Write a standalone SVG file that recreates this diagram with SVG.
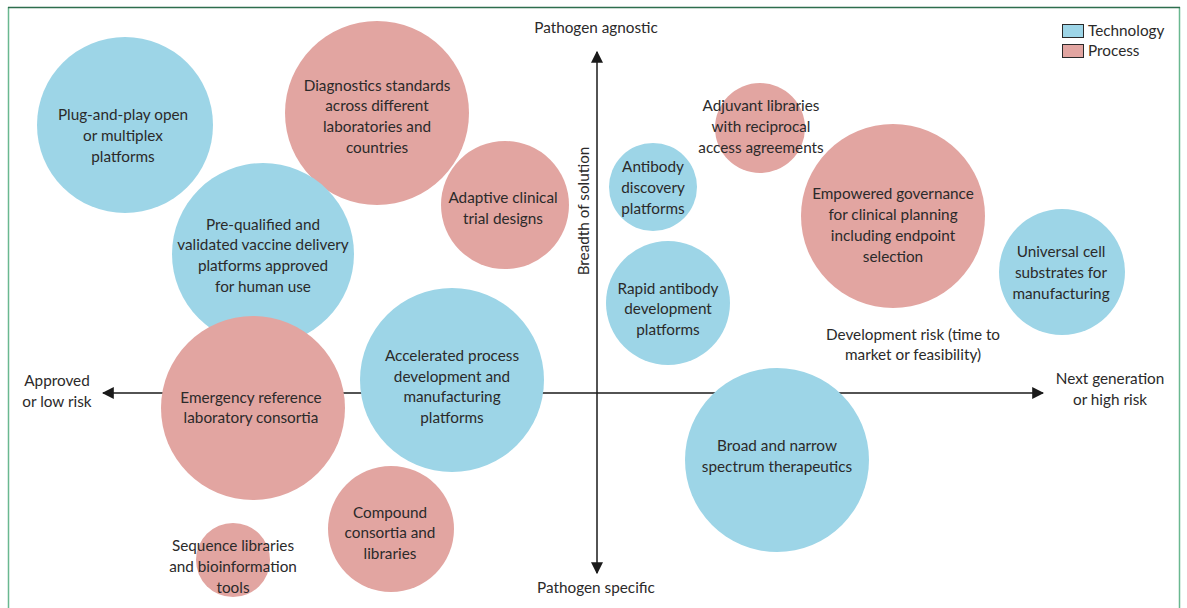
<svg xmlns="http://www.w3.org/2000/svg" width="1187" height="608" viewBox="0 0 1187 608">
<style>
.t{fill:#9dd5e7}
.p{fill:#e2a5a1}
text{font-family:Lato,"Open Sans","Liberation Sans",sans-serif;font-size:15.3px;fill:#2b2a2a;text-anchor:middle}
.ax{stroke:#1a1a1a;stroke-width:1.5;fill:none}
</style>
<defs>
<marker id="ah" viewBox="0 0 10 10" refX="9" refY="5" markerWidth="12" markerHeight="12" markerUnits="userSpaceOnUse" orient="auto"><path d="M0,0 L10,5 L0,10 z" fill="#1a1a1a"/></marker>
</defs>
<rect width="1187" height="608" fill="#fff"/>
<g id="frame">
<line x1="8.5" y1="7" x2="8.5" y2="608" stroke="#6ab890" stroke-width="1.5"/>
<line x1="1179.5" y1="7" x2="1179.5" y2="608" stroke="#6ab890" stroke-width="1.5"/>
<line x1="8" y1="7.5" x2="1180" y2="7.5" stroke="#2d6e4e" stroke-width="1.5"/>
</g>
<g id="connectors">
<line class="ax" x1="597" y1="393" x2="103" y2="393" marker-end="url(#ah)"/>
<line class="ax" x1="597" y1="393" x2="1043" y2="393" marker-end="url(#ah)"/>
<line class="ax" x1="597" y1="393" x2="597" y2="52" marker-end="url(#ah)"/>
<line class="ax" x1="597" y1="393" x2="597" y2="573" marker-end="url(#ah)"/>
</g>
<g id="axis-labels">
<text x="596" y="33">Pathogen agnostic</text>
<text x="596" y="593">Pathogen specific</text>
<text x="57" y="386">Approved</text>
<text x="57" y="407">or low risk</text>
<text x="1110" y="384">Next generation</text>
<text x="1110" y="405">or high risk</text>
<text x="913" y="340">Development risk (time to</text>
<text x="913" y="360">market or feasibility)</text>
<text transform="translate(589,211) rotate(-90)">Breadth of solution</text>
</g>
<g id="legend">
<rect x="1062.5" y="24.5" width="21" height="13" class="t" stroke="#2b2a2a" stroke-width="1"/>
<text x="1088" y="36" style="text-anchor:start">Technology</text>
<rect x="1062.5" y="44.5" width="21" height="13" class="p" stroke="#2b2a2a" stroke-width="1"/>
<text x="1088" y="56" style="text-anchor:start">Process</text>
</g>
<g id="n-plug"><circle class="t" cx="125" cy="125" r="88"/><text x="123" y="120">Plug-and-play open</text><text x="123" y="141">or multiplex</text><text x="123" y="162">platforms</text></g>
<g id="n-diag"><circle class="p" cx="377" cy="113" r="92"/><text x="377" y="91">Diagnostics standards</text><text x="377" y="111">across different</text><text x="377" y="132">laboratories and</text><text x="377" y="153">countries</text></g>
<g id="n-adaptive"><circle class="p" cx="505" cy="205" r="64"/><text x="503" y="203">Adaptive clinical</text><text x="503" y="224">trial designs</text></g>
<g id="n-prequal"><circle class="t" cx="263" cy="254" r="91"/><text x="263" y="230">Pre-qualified and</text><text x="263" y="250">validated vaccine delivery</text><text x="263" y="271">platforms approved</text><text x="263" y="292">for human use</text></g>
<g id="n-emergency"><circle class="p" cx="253" cy="408" r="92"/><text x="251" y="403">Emergency reference</text><text x="251" y="423">laboratory consortia</text></g>
<g id="n-accel"><circle class="t" cx="452" cy="380" r="92"/><text x="452" y="361">Accelerated process</text><text x="452" y="382">development and</text><text x="452" y="402">manufacturing</text><text x="452" y="423">platforms</text></g>
<g id="n-compound"><circle class="p" cx="391" cy="529" r="63"/><text x="390" y="518">Compound</text><text x="390" y="538">consortia and</text><text x="390" y="559">libraries</text></g>
<g id="n-sequence"><circle class="p" cx="233" cy="560" r="37"/><text x="233" y="551">Sequence libraries</text><text x="233" y="572">and bioinformation</text><text x="233" y="593">tools</text></g>
<g id="n-abdisc"><circle class="t" cx="653" cy="187" r="44"/><text x="653" y="172">Antibody</text><text x="653" y="193">discovery</text><text x="653" y="214">platforms</text></g>
<g id="n-rapid"><circle class="t" cx="668" cy="303" r="62"/><text x="668" y="294">Rapid antibody</text><text x="668" y="314">development</text><text x="668" y="335">platforms</text></g>
<g id="n-adjuvant"><circle class="p" cx="760" cy="128" r="45"/><text x="761" y="111">Adjuvant libraries</text><text x="761" y="132">with reciprocal</text><text x="761" y="153">access agreements</text></g>
<g id="n-empowered"><circle class="p" cx="893" cy="216" r="92"/><text x="893" y="199">Empowered governance</text><text x="893" y="220">for clinical planning</text><text x="893" y="241">including endpoint</text><text x="893" y="262">selection</text></g>
<g id="n-universal"><circle class="t" cx="1062" cy="272" r="63"/><text x="1061" y="257">Universal cell</text><text x="1061" y="278">substrates for</text><text x="1061" y="299">manufacturing</text></g>
<g id="n-broad"><circle class="t" cx="777" cy="460" r="92"/><text x="777" y="451">Broad and narrow</text><text x="777" y="472">spectrum therapeutics</text></g>
</svg>
